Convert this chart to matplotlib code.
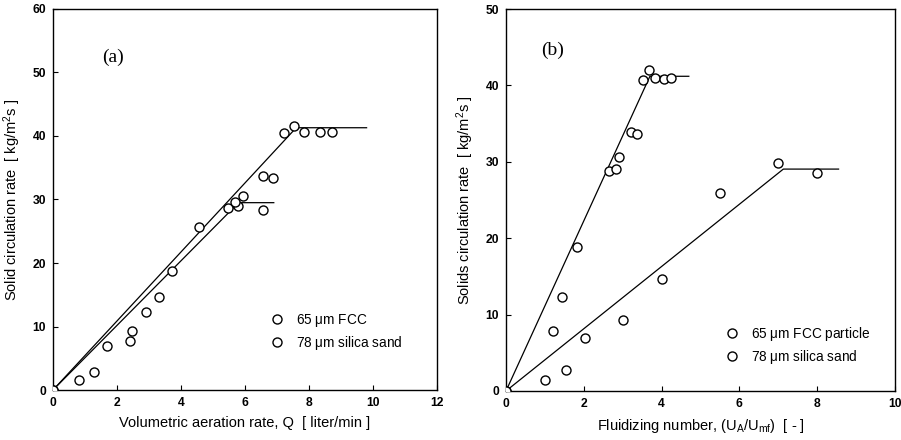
import matplotlib
matplotlib.use('Agg')
import matplotlib.pyplot as plt

plt.rcParams['font.family'] = ['Liberation Sans', 'DejaVu Sans']
plt.rcParams['mathtext.fontset'] = 'custom'
plt.rcParams['mathtext.rm'] = 'Liberation Sans'
plt.rcParams['mathtext.it'] = 'Liberation Sans'

# panel (a): volumetric aeration rate [liter/min] vs solid circulation rate
a_fcc_q = [0, 2.41, 2.90, 3.71, 5.48, 5.77, 5.93, 6.57, 6.88, 7.23, 7.54, 7.85, 8.34, 8.73]
a_fcc_g = [0, 7.7, 12.3, 18.7, 28.6, 28.9, 30.5, 33.7, 33.4, 40.4, 41.6, 40.7, 40.6, 40.6]
a_sand_q = [0, 0.82, 1.27, 1.68, 2.48, 3.30, 4.56, 5.70, 6.57]
a_sand_g = [0, 1.5, 2.9, 7.0, 9.3, 14.6, 25.7, 29.6, 28.4]
a_fcc_fit_x = [0, 7.6, 9.8]
a_fcc_fit_y = [0, 41.3, 41.3]
a_sand_fit_x = [0, 5.8, 6.9]
a_sand_fit_y = [0, 29.5, 29.5]

# panel (b): fluidizing number vs solids circulation rate
b_fcc_u = [0, 1.20, 1.43, 1.82, 2.66, 2.82, 2.90, 3.21, 3.36, 3.51, 3.68, 3.83, 4.05, 4.24]
b_fcc_g = [0, 7.8, 12.3, 18.8, 28.8, 29.0, 30.6, 33.9, 33.6, 40.7, 42.0, 41.0, 40.9, 41.0]
b_sand_u = [0, 1.01, 1.53, 2.02, 3.01, 4.00, 5.50, 7.00, 7.99]
b_sand_g = [0, 1.4, 2.8, 6.9, 9.3, 14.6, 25.9, 29.8, 28.5]
b_fcc_fit_x = [0, 3.7, 4.7]
b_fcc_fit_y = [0, 41.2, 41.2]
b_sand_fit_x = [0, 7.13, 8.55]
b_sand_fit_y = [0, 29.05, 29.05]

fig = plt.figure(figsize=(9.01, 4.40), dpi=100)
ax1 = fig.add_axes([0.0588, 0.1136, 0.4262, 0.866])
ax2 = fig.add_axes([0.5616, 0.1114, 0.4317, 0.868])

mk = dict(marker='o', ms=6.5, mfc='white', mec='black', mew=1.0, ls='none', zorder=3)


def style_axes(ax):
    ax.tick_params(direction='in', length=3.5, width=0.8, top=False, right=False,
                   labelsize=8.7, pad=5)
    for lab in ax.get_xticklabels() + ax.get_yticklabels():
        lab.set_fontweight('bold')
    for sp in ax.spines.values():
        sp.set_linewidth(1.0)


ax1.plot(a_fcc_fit_x, a_fcc_fit_y, c='k', lw=0.9)
ax1.plot(a_sand_fit_x, a_sand_fit_y, c='k', lw=0.9)
ax1.plot(a_fcc_q, a_fcc_g, label=r'65 $\mu$m FCC', **mk)
ax1.plot(a_sand_q, a_sand_g, label=r'78 $\mu$m silica sand', **mk)
ax1.set_xlim(0, 12)
ax1.set_ylim(0, 60)
ax1.set_xticks(range(0, 13, 2))
ax1.set_yticks(range(0, 61, 10))
style_axes(ax1)
ax1.set_xlabel('Volumetric aeration rate, Q  [ liter/min ]', fontsize=10.5, labelpad=5)
ax1.set_ylabel(r'Solid circulation rate  [ kg/m$^2$s ]', fontsize=10.5, labelpad=7)
ax1.text(1.55, 51.6, '(a)', family='Liberation Serif', fontsize=14)
ax1.legend(loc='upper left', bbox_to_anchor=(0.545, 0.222), frameon=False, fontsize=9.8,
           handletextpad=0.8, labelspacing=0.35, borderpad=0, handlelength=1.2)

ax2.plot(b_fcc_fit_x, b_fcc_fit_y, c='k', lw=0.9)
ax2.plot(b_sand_fit_x, b_sand_fit_y, c='k', lw=0.9)
ax2.plot(b_fcc_u, b_fcc_g, label=r'65 $\mu$m FCC particle', **mk)
ax2.plot(b_sand_u, b_sand_g, label=r'78 $\mu$m silica sand', **mk)
ax2.set_xlim(0, 10)
ax2.set_ylim(0, 50)
ax2.set_xticks(range(0, 11, 2))
ax2.set_yticks(range(0, 51, 10))
style_axes(ax2)
ax2.set_xlabel(r'Fluidizing number, (U$_A$/U$_{mf}$)  [ - ]', fontsize=10.5, labelpad=5)
ax2.set_ylabel(r'Solids circulation rate  [ kg/m$^2$s ]', fontsize=10.5, labelpad=7)
ax2.text(0.9, 44.0, '(b)', family='Liberation Serif', fontsize=14)
ax2.legend(loc='upper left', bbox_to_anchor=(0.542, 0.19), frameon=False, fontsize=9.8,
           handletextpad=0.8, labelspacing=0.35, borderpad=0, handlelength=1.2)

fig.savefig('out.png', dpi=100)
